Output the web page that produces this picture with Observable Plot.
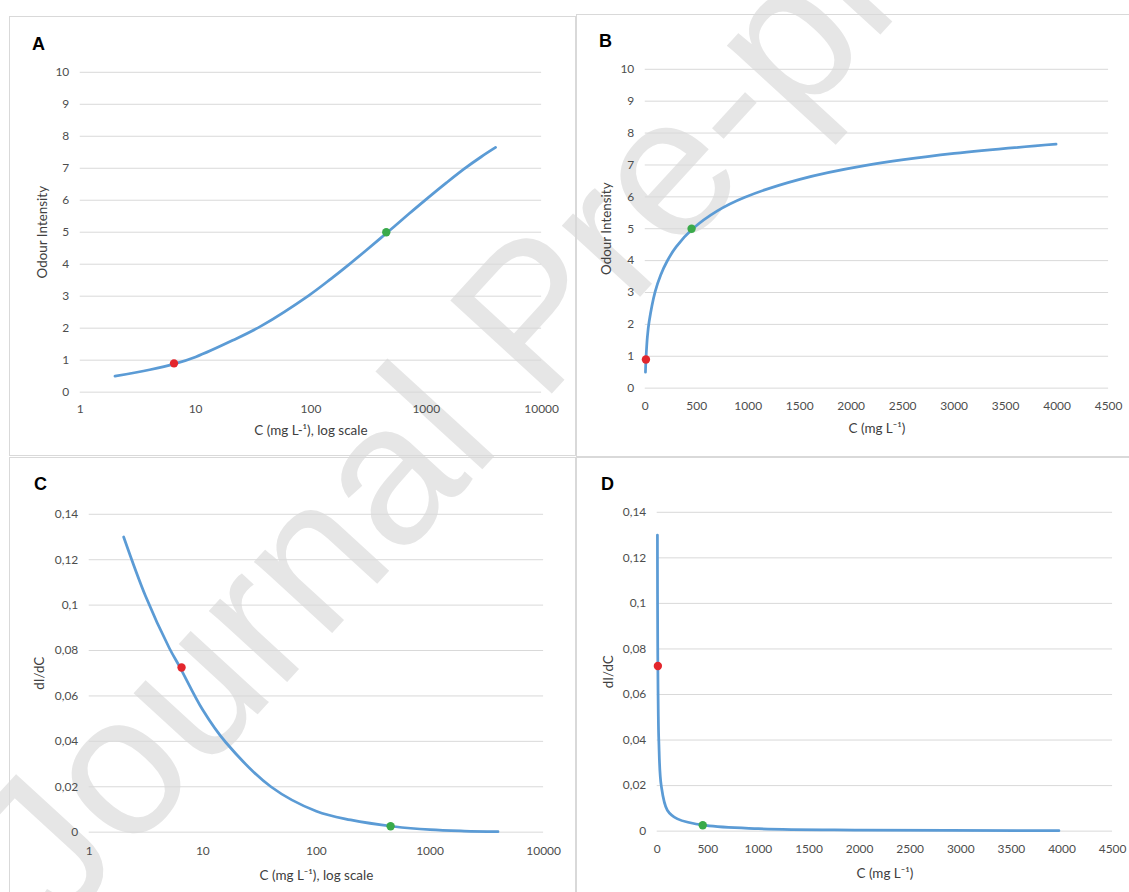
<!DOCTYPE html>
<html><head><meta charset="utf-8">
<script src="https://cdn.jsdelivr.net/npm/d3@7"></script>
<script src="https://cdn.jsdelivr.net/npm/@observablehq/plot@0.6"></script>
<style>
body{margin:0;background:#fff;}
#page{position:relative;width:1129px;height:892px;overflow:hidden;background:#fff;}
.panel{position:absolute;border:1px solid #d9d9d9;box-sizing:border-box;background:transparent;}
.panel svg{position:absolute;left:-1px;top:-1px;}
#wm,#letters{position:absolute;left:0;top:0;}
</style></head><body><div id="page"></div>
<script>
// ---- data ----
// Odour intensity curve (panels A, B)
const concI = [2, 4, 6.65, 10, 21, 37.5, 95.6, 150, 212, 300, 458, 700, 962, 1500, 2130, 3000, 3990];
const intensity = [0.50, 0.70, 0.89, 1.10, 1.62, 2.08, 3.02, 3.55, 3.98, 4.43, 4.99, 5.56, 5.98, 6.55, 6.98, 7.36, 7.65];
// Derivative dI/dC (panels C, D)
const concS = [2.01, 3.13, 5.08, 6.31, 10, 15.9, 39.8, 100, 200, 480, 1000, 2000, 3970];
const slope = [0.130, 0.104, 0.081, 0.0725, 0.0538, 0.0396, 0.020, 0.0092, 0.0054, 0.0025, 0.0011, 0.0005, 0.0002];
// highlighted points
const markC = [6.5, 450];
const markI = [0.9, 5.0];
const markS = [0.0725, 0.0026];
const markColor = ["#e3262d", "#3aaa4a"];
// ticks
const logTicks = [1, 10, 100, 1000, 10000];
const linTicks = [0, 500, 1000, 1500, 2000, 2500, 3000, 3500, 4000, 4500];
const intensityTicks = [0, 1, 2, 3, 4, 5, 6, 7, 8, 9, 10];
const slopeTicks = [0, 0.02, 0.04, 0.06, 0.08, 0.1, 0.12, 0.14];
// labels
const panelLetters = ["A", "B", "C", "D"];
const xLabels = ["C (mg L-\u00B9), log scale", "C (mg L\u207B\u00B9)", "C (mg L\u207B\u00B9), log scale", "C (mg L\u207B\u00B9)"];
const yLabels = ["Odour Intensity", "Odour Intensity", "dI/dC", "dI/dC"];

const curveI = concI.map((c, i) => ({c, v: intensity[i]}));
const curveS = concS.map((c, i) => ({c, v: slope[i]}));
const dotsI = markC.map((c, i) => ({c, v: markI[i], col: markColor[i]}));
const dotsS = markC.map((c, i) => ({c, v: markS[i], col: markColor[i]}));
const comma = d => String(d).replace(".", ",");

const page = document.getElementById("page");

// watermark (behind)
const NS = "http://www.w3.org/2000/svg";
const wm = document.createElementNS(NS, "svg");
wm.setAttribute("id", "wm"); wm.setAttribute("width", 1129); wm.setAttribute("height", 892);
const wt = document.createElementNS(NS, "text");
wt.setAttribute("transform", "translate(60,930) rotate(-47.5)");
wt.setAttribute("font-family", "Liberation Sans, Arial, sans-serif");
wt.setAttribute("font-size", 200);
wt.setAttribute("fill", "#e6e6e6");
wt.textContent = "Journal Pre-proof";
wm.appendChild(wt);
page.appendChild(wm);

const specs = [
  {box:[9,16,567,440], m:[56,33,63,71], xType:"log", xDom:[1,10000], xTicks:logTicks, xFmt:d=>String(d), yDom:[0,10], yTicks:intensityTicks, yFmt:d=>String(d), data:curveI, dots:dotsI, xPad:12, xLabDy:39, yLabDx:-38},
  {box:[576,14,559,443], m:[55,25,68,69], xType:"linear", xDom:[0,4500], xTicks:linTicks, xFmt:d=>String(d), yDom:[0,10], yTicks:intensityTicks, yFmt:d=>String(d), data:curveI, dots:dotsI, xPad:13, xLabDy:41, yLabDx:-39},
  {box:[9,457,567,440], m:[57,31,64,80], xType:"log", xDom:[1,10000], xTicks:logTicks, xFmt:d=>String(d), yDom:[0,0.14], yTicks:slopeTicks, yFmt:comma, data:curveS, dots:dotsS, xPad:14, xLabDy:44, yLabDx:-50},
  {box:[576,457,559,440], m:[55,21,65,81], xType:"linear", xDom:[0,4500], xTicks:linTicks, xFmt:d=>String(d), yDom:[0,0.14], yTicks:slopeTicks, yFmt:comma, data:curveS, dots:dotsS, xPad:13, xLabDy:43, yLabDx:-49}
];

specs.forEach((s, k) => {
  const [left, top, w, h] = s.box;
  const div = document.createElement("div");
  div.className = "panel";
  Object.assign(div.style, {left: left+"px", top: top+"px", width: w+"px", height: h+"px"});
  const chart = Plot.plot({
    width: w, height: h,
    marginTop: s.m[0], marginRight: s.m[1], marginBottom: s.m[2], marginLeft: s.m[3],
    style: {fontFamily: "Lato, sans-serif", fontSize: "12px", color: "#4d4d4d", background: "transparent", overflow: "visible"},
    x: {type: s.xType, domain: s.xDom},
    y: {domain: s.yDom},
    marks: [
      Plot.gridY(s.yTicks, {stroke: "#d9d9d9", strokeOpacity: 1, strokeWidth: 1}),
      Plot.axisX(s.xTicks, {tickSize: 0, tickPadding: s.xPad, tickFormat: s.xFmt, label: null, fill: "#4d4d4d"}),
      Plot.axisY(s.yTicks, {tickSize: 0, tickPadding: 11, tickFormat: s.yFmt, label: null, fill: "#4d4d4d"}),
      Plot.line(s.data, {x: "c", y: "v", stroke: "#5b9bd5", strokeWidth: 2.75, curve: "catmull-rom"}),
      Plot.dot(s.dots, {x: "c", y: "v", fill: "col", r: 4.2}),
      Plot.text([xLabels[k]], {frameAnchor: "bottom", dy: s.xLabDy, lineAnchor: "middle", textAnchor: "middle", text: d => d, fill: "#404040", fontSize: 13.5}),
      Plot.text([yLabels[k]], {frameAnchor: "left", dx: s.yLabDx, rotate: -90, lineAnchor: "middle", textAnchor: "middle", text: d => d, fill: "#404040", fontSize: 13.5})
    ]
  });
  div.appendChild(chart);
  page.appendChild(div);
});

// panel letters
const lt = document.createElementNS(NS, "svg");
lt.setAttribute("id", "letters"); lt.setAttribute("width", 1129); lt.setAttribute("height", 892);
const letterPos = [[32,50],[599,47],[34,490],[601,490]];
panelLetters.forEach((L, i) => {
  const t = document.createElementNS(NS, "text");
  t.setAttribute("x", letterPos[i][0]); t.setAttribute("y", letterPos[i][1]);
  t.setAttribute("font-family", "Liberation Sans, Arial, sans-serif");
  t.setAttribute("font-weight", "bold"); t.setAttribute("font-size", 18);
  t.textContent = L;
  lt.appendChild(t);
});
page.appendChild(lt);
</script>
</body></html>
